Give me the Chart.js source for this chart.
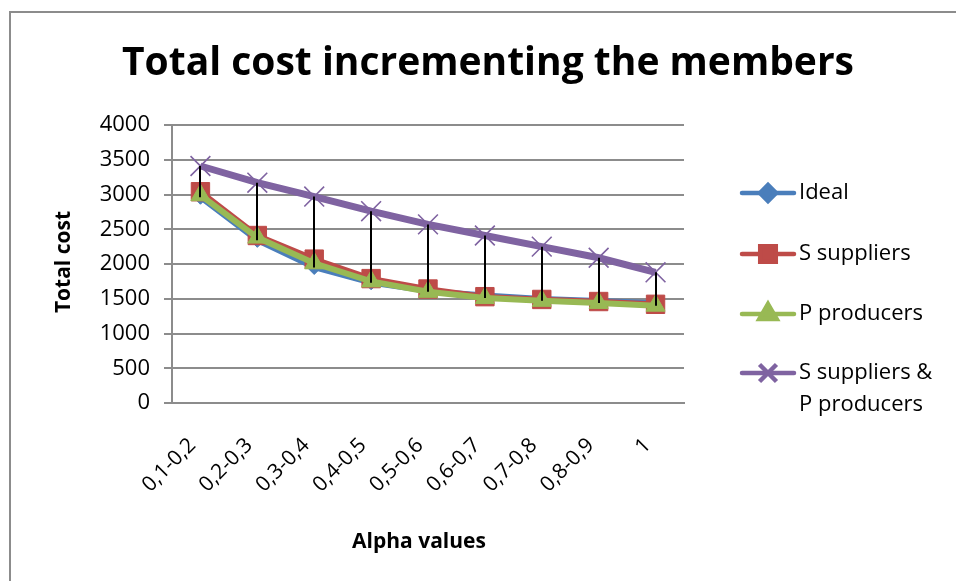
<!DOCTYPE html>
<html>
<head>
<meta charset="utf-8">
<script src="https://cdn.jsdelivr.net/npm/chart.js@4/dist/chart.umd.min.js"></script>
<style>
  html, body { margin: 0; padding: 0; background: #ffffff; }
  canvas { display: block; }
</style>
</head>
<body>
<canvas id="chart" width="956" height="581"></canvas>
<script>
// Alpha value bands on the x axis
const categories = ['0,1-0,2', '0,2-0,3', '0,3-0,4', '0,4-0,5', '0,5-0,6', '0,6-0,7', '0,7-0,8', '0,8-0,9', '1'];

// Total cost per configuration
const ideal      = [2960, 2340, 1950, 1730, 1610, 1550, 1500, 1470, 1440];
const sSuppliers = [3040, 2410, 2070, 1790, 1640, 1530, 1490, 1460, 1420];
const pProducers = [2990, 2380, 2010, 1750, 1600, 1510, 1470, 1440, 1400];
const sAndP      = [3410, 3170, 2970, 2760, 2570, 2410, 2250, 2090, 1880];

// Value axis range
const yMin = 0;
const yMax = 4000;
const yStep = 500;

const seriesNames = ['Ideal', 'S suppliers', 'P producers', ['S suppliers &', 'P producers']];
const chartTitle = 'Total cost incrementing the members';
const xTitle = 'Alpha values';
const yTitle = 'Total cost';

const FONT = '"Open Sans", "DejaVu Sans", sans-serif';
const GRID = '#8c8c8c';

const styles = [
  { color: '#4a7ebb', point: 'rectRot',  radius: 7,  width: 5.5, order: 4, legendRadius: 8 },
  { color: '#be4b48', point: 'rect',     radius: 13, width: 5.5, order: 3, legendRadius: 11 },
  { color: '#98b954', point: 'triangle', radius: 11, width: 6,   order: 2, legendRadius: 10 },
  { color: '#7f63a1', point: 'crossRot', radius: 14, width: 7,   order: 1, legendRadius: 12 }
];
const seriesData = [ideal, sSuppliers, pProducers, sAndP];

const datasets = seriesData.map((data, i) => {
  const s = styles[i];
  const cross = s.point === 'crossRot';
  return {
    label: Array.isArray(seriesNames[i]) ? seriesNames[i].join(' ') : seriesNames[i],
    data: data,
    order: s.order,
    borderColor: s.color,
    backgroundColor: s.color,
    borderWidth: s.width,
    pointStyle: s.point,
    pointRadius: s.radius,
    pointBorderWidth: cross ? 1.6 : 1,
    pointBorderColor: s.color,
    pointBackgroundColor: s.color,
    tension: 0,
    fill: false
  };
});

const decor = {
  id: 'decor',
  beforeDraw(chart) {
    const ctx = chart.ctx;
    ctx.save();
    ctx.fillStyle = '#ffffff';
    ctx.fillRect(0, 0, chart.width, chart.height);
    ctx.strokeStyle = GRID;
    ctx.lineWidth = 2;
    ctx.strokeRect(10, 12, chart.width + 20, chart.height + 20);
    ctx.restore();
  },
  afterDatasetsDraw(chart) {
    // high-low lines joining the highest and lowest series at each category
    const ctx = chart.ctx;
    const xs = chart.scales.x, ys = chart.scales.y;
    ctx.save();
    ctx.strokeStyle = '#000000';
    ctx.lineWidth = 2;
    categories.forEach((c, i) => {
      const vals = seriesData.map(d => d[i]);
      const x = Math.round(xs.getPixelForValue(i));
      ctx.beginPath();
      ctx.moveTo(x, ys.getPixelForValue(Math.max(...vals)));
      ctx.lineTo(x, ys.getPixelForValue(Math.min(...vals)));
      ctx.stroke();
    });
    ctx.restore();
  },
  afterDraw(chart) {
    const ctx = chart.ctx;
    const area = chart.chartArea;
    const xs = chart.scales.x;
    ctx.save();
    ctx.fillStyle = '#000000';

    // chart title
    ctx.font = '700 39px ' + FONT;
    ctx.textAlign = 'center';
    ctx.textBaseline = 'middle';
    ctx.fillText(chartTitle, 488, 64);

    // category labels, slanted
    ctx.font = '400 21px ' + FONT;
    categories.forEach((c, i) => {
      const x = xs.getPixelForValue(i) - 8;
      const y = area.bottom + 39;
      ctx.save();
      ctx.translate(x, y);
      ctx.rotate(-Math.PI / 4);
      ctx.textAlign = 'right';
      ctx.textBaseline = 'middle';
      ctx.fillText(c, 0, 0);
      ctx.restore();
    });

    // axis titles
    ctx.font = '700 21px ' + FONT;
    ctx.textAlign = 'center';
    ctx.textBaseline = 'middle';
    ctx.fillText(xTitle, (area.left + area.right) / 2 - 9, 542);
    ctx.save();
    ctx.translate(64, (area.top + area.bottom) / 2 - 2);
    ctx.rotate(-Math.PI / 2);
    ctx.fillText(yTitle, 0, 0);
    ctx.restore();

    // legend
    const rows = [193, 254, 314, 373];
    ctx.font = '400 22px ' + FONT;
    ctx.textAlign = 'left';
    styles.forEach((s, i) => {
      const y = rows[i];
      ctx.strokeStyle = s.color;
      ctx.fillStyle = s.color;
      ctx.lineWidth = 4.5;
      ctx.lineCap = 'round';
      ctx.beginPath();
      ctx.moveTo(742, y);
      ctx.lineTo(794, y);
      ctx.stroke();
      ctx.lineCap = 'butt';
      ctx.strokeStyle = s.color;
      ctx.fillStyle = s.color;
      Chart.helpers.drawPoint(ctx, {
        pointStyle: s.point,
        radius: s.legendRadius,
        borderWidth: s.point === 'crossRot' ? 1.6 : 1,
        rotation: 0
      }, 768, y);
      ctx.fillStyle = '#000000';
      const name = seriesNames[i];
      const lines = Array.isArray(name) ? name : [name];
      lines.forEach((t, k) => ctx.fillText(t, 799, y + k * 32));
    });
    ctx.restore();
  }
};

function build() {
  new Chart(document.getElementById('chart'), {
    type: 'line',
    data: { labels: categories, datasets: datasets },
    options: {
      responsive: false,
      animation: false,
      devicePixelRatio: 1,
      layout: { padding: { left: 0, right: 272, top: 125, bottom: 0 } },
      plugins: {
        legend: { display: false },
        title: { display: false },
        tooltip: { enabled: false }
      },
      scales: {
        x: {
          type: 'category',
          offset: true,
          grid: { display: false, drawTicks: false },
          border: { display: true, color: GRID, width: 2 },
          ticks: { display: false },
          afterFit(scale) { scale.height = 178; }
        },
        y: {
          min: yMin,
          max: yMax,
          ticks: {
            stepSize: yStep,
            color: '#000000',
            padding: 14,
            font: { family: FONT, size: 22 },
            callback: (v) => String(v)
          },
          grid: { color: GRID, lineWidth: 2, tickLength: 8, drawTicks: true },
          border: { display: true, color: GRID, width: 2 },
          afterFit(scale) { scale.width = 172; }
        }
      }
    },
    plugins: [decor]
  });
}

Promise.all([
  document.fonts.load('700 39px "Open Sans"'),
  document.fonts.load('400 22px "Open Sans"')
]).then(build, build);
</script>
</body>
</html>
